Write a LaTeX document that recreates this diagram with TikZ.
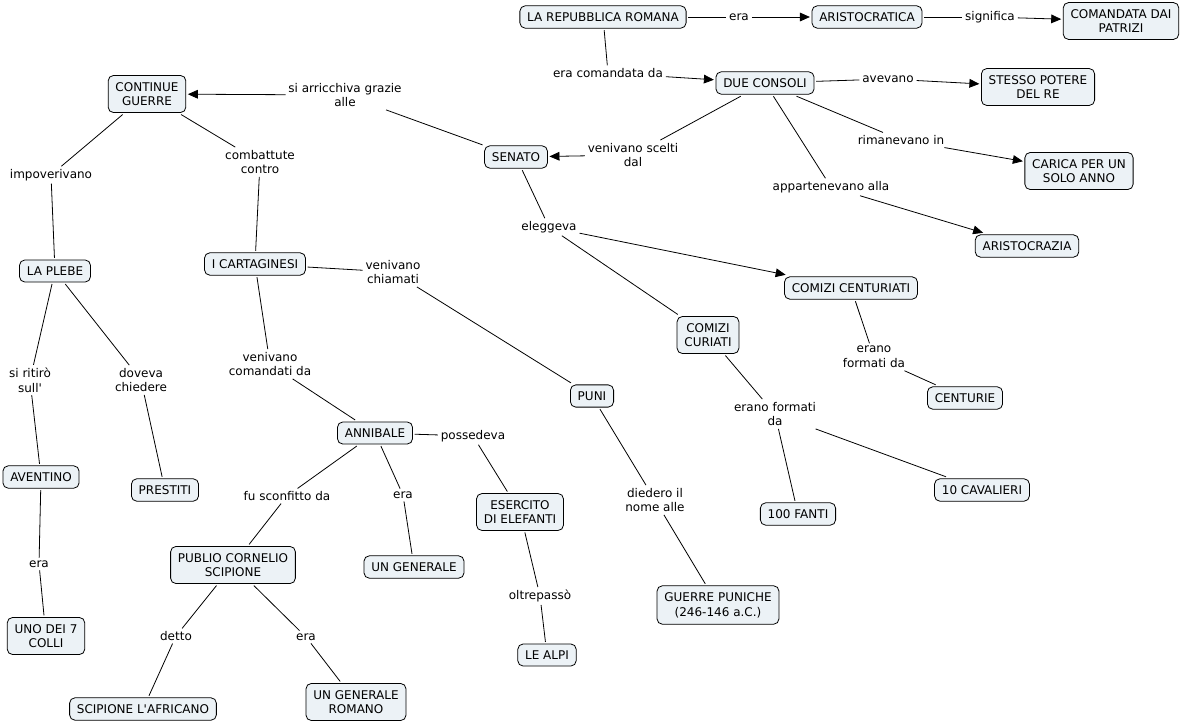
\documentclass[tikz,border=0pt]{standalone}
\usepackage{fontspec}
\setmainfont{DejaVu Sans}
\usetikzlibrary{arrows.meta}
\definecolor{cmapfill}{RGB}{236,242,246}

\begin{document}
\begin{tikzpicture}[x=0.75pt, y=-0.75pt, font=\fontsize{9}{11}\selectfont]
  \tikzstyle{concept}=[rectangle, draw, rounded corners=4pt, fill=cmapfill, line width=0.6pt, align=center, inner xsep=5.5pt, inner ysep=5pt, outer sep=1.5pt]
  \tikzstyle{link}=[align=center, inner sep=2pt]
  \tikzstyle{conn}=[line width=0.6pt]
  \tikzstyle{arr}=[line width=0.6pt, -{Triangle[length=7.5pt,width=6.5pt]}]
  \useasboundingbox (0,0) rectangle (1183,725);

  \node[concept] (rep) at (603,17) {LA REPUBBLICA ROMANA};
  \node[concept] (aristocratica) at (867,17) {ARISTOCRATICA};
  \node[concept] (comandata) at (1121,21) {COMANDATA DAI\\PATRIZI};
  \node[concept] (consoli) at (765,83) {DUE CONSOLI};
  \node[concept] (stesso) at (1038,87) {STESSO POTERE\\DEL RE};
  \node[concept] (continue) at (147,94) {CONTINUE\\GUERRE};
  \node[concept] (senato) at (516,157) {SENATO};
  \node[concept] (carica) at (1079,171) {CARICA PER UN\\SOLO ANNO};
  \node[concept] (aristocrazia) at (1027,246) {ARISTOCRAZIA};
  \node[concept] (plebe) at (55,271) {LA PLEBE};
  \node[concept] (cartaginesi) at (255,264) {I CARTAGINESI};
  \node[concept] (centuriati) at (851,288) {COMIZI CENTURIATI};
  \node[concept] (curiati) at (708,335) {COMIZI\\CURIATI};
  \node[concept] (puni) at (592,396) {PUNI};
  \node[concept] (centurie) at (965,398) {CENTURIE};
  \node[concept] (annibale) at (375,433) {ANNIBALE};
  \node[concept] (aventino) at (41,477) {AVENTINO};
  \node[concept] (prestiti) at (165,490) {PRESTITI};
  \node[concept] (esercito) at (520,512) {ESERCITO\\DI ELEFANTI};
  \node[concept] (fanti) at (798,514) {100 FANTI};
  \node[concept] (cavalieri) at (982,490) {10 CAVALIERI};
  \node[concept] (publio) at (233,565) {PUBLIO CORNELIO\\SCIPIONE};
  \node[concept] (generale) at (414,567) {UN GENERALE};
  \node[concept] (guerre) at (718,605) {GUERRE PUNICHE\\(246-146 a.C.)};
  \node[concept] (uno) at (46,636) {UNO DEI 7\\COLLI};
  \node[concept] (alpi) at (547,655) {LE ALPI};
  \node[concept] (africano) at (143,709) {SCIPIONE L\textquotesingle AFRICANO};
  \node[concept] (romano) at (356,702) {UN GENERALE\\ROMANO};

  \node[link] (lera) at (739,17) {era};
  \node[link] (lsignifica) at (990,17) {significa};
  \node[link] (lcomandata) at (608,73) {era comandata da};
  \node[link] (lavevano) at (888,79) {avevano};
  \node[link] (larricchiva) at (345,95) {si arricchiva grazie\\alle};
  \node[link] (lscelti) at (633,155) {venivano scelti\\dal};
  \node[link] (lrimanevano) at (901,140) {rimanevano in};
  \node[link] (lappartenevano) at (831,187) {appartenevano alla};
  \node[link] (limpoverivano) at (51,175) {impoverivano};
  \node[link] (lcombattute) at (260,162) {combattute\\contro};
  \node[link] (leleggeva) at (549,227) {eleggeva};
  \node[link] (lchiamati) at (393,272) {venivano\\chiamati};
  \node[link] (lritiro) at (30,380) {si ritirò\\sull\textquotesingle};
  \node[link] (lchiedere) at (141,380) {doveva\\chiedere};
  \node[link] (lcomandati) at (270,364) {venivano\\comandati da};
  \node[link] (lformati1) at (874,357) {erano\\formati da};
  \node[link] (lformati2) at (775,414) {erano formati\\da};
  \node[link] (lpossedeva) at (473,436) {possedeva};
  \node[link] (lsconfitto) at (287,496) {fu sconfitto da};
  \node[link] (lera2) at (403,495) {era};
  \node[link] (ldiedero) at (655,500) {diedero il\\nome alle};
  \node[link] (loltrepasso) at (540,596) {oltrepassò};
  \node[link] (lera3) at (39,564) {era};
  \node[link] (ldetto) at (176,636) {detto};
  \node[link] (lera4) at (306,637) {era};

  \draw[conn] (rep) -- (lera);
  \draw[arr] (lera) -- (aristocratica);
  \draw[conn] (aristocratica) -- (lsignifica);
  \draw[arr] (lsignifica) -- (comandata);
  \draw[conn] (rep) -- (lcomandata);
  \draw[arr] (lcomandata) -- (consoli);
  \draw[conn] (consoli) -- (lavevano);
  \draw[arr] (lavevano) -- (stesso);
  \draw[conn] (consoli) -- (lscelti);
  \draw[arr] (lscelti) -- (senato);
  \draw[conn] (consoli) -- (lrimanevano);
  \draw[arr] (lrimanevano) -- (carica);
  \draw[conn] (consoli) -- (lappartenevano);
  \draw[arr] (lappartenevano) -- (aristocrazia);
  \draw[conn] (senato) -- (larricchiva);
  \draw[arr] (larricchiva) -- (continue);
  \draw[conn] (senato) -- (leleggeva);
  \draw[arr] (leleggeva) -- (centuriati);
  \draw[conn] (leleggeva) -- (curiati);
  \draw[conn] (continue) -- (limpoverivano);
  \draw[conn] (limpoverivano) -- (plebe);
  \draw[conn] (continue) -- (lcombattute);
  \draw[conn] (lcombattute) -- (cartaginesi);
  \draw[conn] (cartaginesi) -- (lchiamati);
  \draw[conn] (lchiamati) -- (puni);
  \draw[conn] (cartaginesi) -- (lcomandati);
  \draw[conn] (lcomandati) -- (annibale);
  \draw[conn] (plebe) -- (lritiro);
  \draw[conn] (lritiro) -- (aventino);
  \draw[conn] (plebe) -- (lchiedere);
  \draw[conn] (lchiedere) -- (prestiti);
  \draw[conn] (aventino) -- (lera3);
  \draw[conn] (lera3) -- (uno);
  \draw[conn] (annibale) -- (lsconfitto);
  \draw[conn] (lsconfitto) -- (publio);
  \draw[conn] (annibale) -- (lera2);
  \draw[conn] (lera2) -- (generale);
  \draw[conn] (annibale) -- (lpossedeva);
  \draw[conn] (lpossedeva) -- (esercito);
  \draw[conn] (esercito) -- (loltrepasso);
  \draw[conn] (loltrepasso) -- (alpi);
  \draw[conn] (puni) -- (ldiedero);
  \draw[conn] (ldiedero) -- (guerre);
  \draw[conn] (publio) -- (ldetto);
  \draw[conn] (ldetto) -- (africano);
  \draw[conn] (publio) -- (lera4);
  \draw[conn] (lera4) -- (romano);
  \draw[conn] (centuriati) -- (lformati1);
  \draw[conn] (lformati1) -- (centurie);
  \draw[conn] (curiati) -- (lformati2);
  \draw[conn] (lformati2) -- (fanti);
  \draw[conn] (lformati2) -- (cavalieri);
\end{tikzpicture}
\end{document}
